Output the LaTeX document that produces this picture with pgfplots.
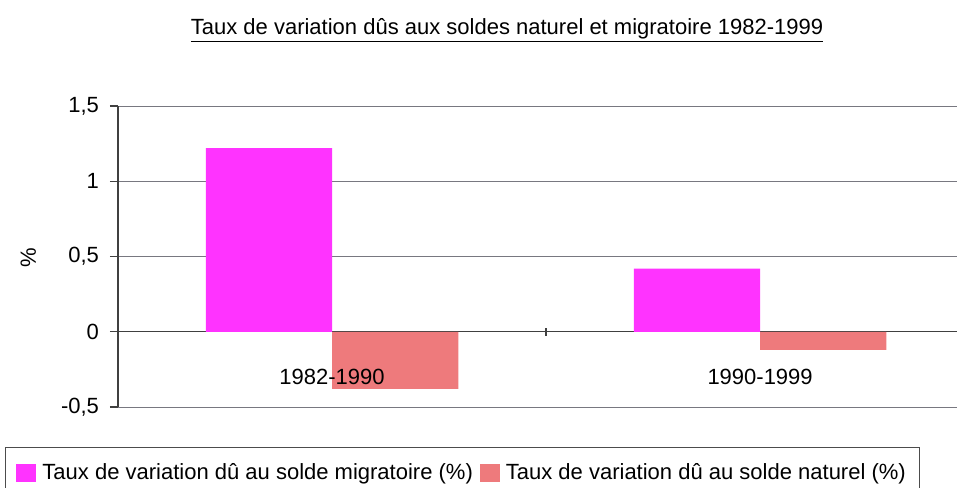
\documentclass[border=0pt]{standalone}
\usepackage{fontspec}
\setmainfont{Liberation Sans}
\usepackage{pgfplots}
\pgfplotsset{compat=1.18}
\definecolor{migr}{RGB}{255,51,255}
\definecolor{nat}{RGB}{238,122,124}
\definecolor{gridc}{RGB}{120,120,128}

\begin{document}
\begin{tikzpicture}
\useasboundingbox (-59pt,-40pt) rectangle (421.5pt,203.5pt);
\begin{axis}[
    at={(0,0)}, anchor=south west,
    scale only axis, width=419.5pt, height=150.5pt,
    xmin=0.5, xmax=2.46, ymin=-0.5, ymax=1.5,
    axis x line=middle, axis y line=left,
    axis line style={-, draw=black!75, line width=0.6pt},
    ybar=0pt, bar width=0.295,
    xtick={1.5}, xticklabels={},
    x tick style={draw=black!75, line width=0.6pt},
    xtick align=center, ytick align=outside,
    ytick={-0.5,0,0.5,1,1.5},
    y tick style={draw=black!75, line width=0.6pt},
    major tick length=4pt,
    ymajorgrids, grid style={gridc, line width=0.5pt},
    /pgf/number format/use comma,
    /pgf/number format/assume math mode=true,
    ticklabel style={font=\fontsize{11}{13}\selectfont},
    yticklabel style={xshift=-2pt},
    ylabel={\%},
    ylabel style={at={(axis description cs:-0.107,0.495)}, anchor=center,
        font=\fontsize{11}{13}\selectfont},
    title={\underline{Taux de variation dûs aux soldes naturel et migratoire 1982-1999}},
    title style={at={(axis description cs:0.4637,1.199)}, anchor=base,
        font=\fontsize{11}{13}\selectfont, inner sep=0pt},
    legend columns=2,
    area legend,
    legend image code/.code={\fill[#1] (0pt,-4.7pt) rectangle (10pt,4.7pt);},
    legend style={at={(axis description cs:-0.1347,-0.1329)}, anchor=north west,
        draw=black!70, line width=0.5pt,
        font=\fontsize{11}{13}\selectfont,
        inner xsep=5.5pt, inner ysep=6pt,
        /tikz/every odd column/.append style={column sep=1.5pt},
        /tikz/every even column/.append style={column sep=2pt},
        nodes={inner xsep=1.5pt}},
]
\addplot[fill=migr, draw=none] coordinates {(1,1.22) (2,0.42)};
\addlegendentry{Taux de variation dû au solde migratoire (\%)}
\addplot[fill=nat, draw=none] coordinates {(1,-0.38) (2,-0.12)};
\addlegendentry{Taux de variation dû au solde naturel (\%)}
% category names, drawn after the bars so they sit on top
\node[anchor=north, yshift=-15pt, font=\fontsize{11}{13}\selectfont] at (axis cs:1,0) {1982-1990};
\node[anchor=north, yshift=-15pt, font=\fontsize{11}{13}\selectfont] at (axis cs:2,0) {1990-1999};
\end{axis}
\end{tikzpicture}
\end{document}
